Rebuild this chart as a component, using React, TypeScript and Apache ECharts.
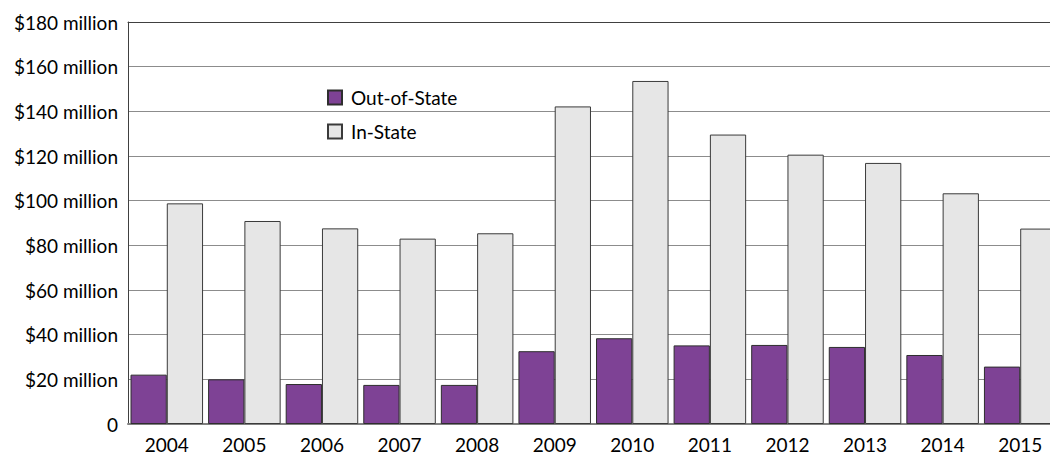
import React, { useEffect, useRef } from "react";
import * as echarts from "echarts";

const years = ["2004", "2005", "2006", "2007", "2008", "2009", "2010", "2011", "2012", "2013", "2014", "2015"];
const outOfState = [22.1, 20, 17.9, 17.5, 17.5, 32.6, 38.4, 35.2, 35.4, 34.5, 30.9, 25.7];
const inState = [98.8, 90.9, 87.6, 83, 85.4, 142.2, 153.6, 129.6, 120.6, 116.9, 103.3, 87.5];
const yTicks = [0, 20, 40, 60, 80, 100, 120, 140, 160, 180];

const FONT = "Lato, 'Noto Sans', sans-serif";

export default function App() {
  const ref = useRef<HTMLDivElement>(null);
  useEffect(() => {
    if (!ref.current) return;
    const chart = echarts.init(ref.current, undefined, { renderer: "svg" });
    chart.setOption({
      animation: false,
      backgroundColor: "#ffffff",
      textStyle: { fontFamily: FONT },
      grid: { left: 128, top: 22, bottom: 31, width: 931, containLabel: false, outerBoundsMode: "none" },
      legend: {
        orient: "vertical",
        left: 327,
        top: 88,
        padding: 0,
        itemWidth: 14,
        itemHeight: 14,
        itemGap: 15,
        icon: "rect",
        textStyle: { fontFamily: FONT, fontSize: 19, color: "#000", padding: [0, 0, 0, 4] },
        data: ["Out-of-State", "In-State"],
      },
      xAxis: [
        {
          type: "category",
          data: years,
          position: "bottom",
          axisLine: { lineStyle: { color: "#808080", width: 2 } },
          axisTick: { show: false },
          axisLabel: { fontFamily: FONT, fontSize: 19, color: "#000", margin: 11 },
        },
        {
          type: "category",
          data: years,
          position: "top",
          axisLine: { lineStyle: { color: "#404040", width: 1 } },
          axisTick: { show: false },
          axisLabel: { show: false },
        },
      ],
      yAxis: {
        type: "value",
        min: 0,
        max: 180,
        interval: 20,
        axisLine: { show: true, lineStyle: { color: "#404040", width: 1 } },
        axisTick: { show: false },
        splitLine: { lineStyle: { color: "#8c8c8c", width: 1 } },
        axisLabel: {
          fontFamily: FONT,
          fontSize: 19,
          color: "#000",
          margin: 10,
          formatter: (v: number) => (yTicks.includes(v) ? (v === 0 ? "0" : `$${v} million`) : ""),
        },
      },
      series: [
        {
          name: "Out-of-State",
          type: "bar",
          data: outOfState,
          barGap: "0%",
          barCategoryGap: "6.5%",
          itemStyle: { color: "#7e4295", borderColor: "#2e2e2e", borderWidth: 1 },
        },
        {
          name: "In-State",
          type: "bar",
          data: inState,
          barGap: "0%",
          barCategoryGap: "6.5%",
          itemStyle: { color: "#e6e6e6", borderColor: "#3a3a3a", borderWidth: 1 },
        },
      ],
    });
    return () => chart.dispose();
  }, []);
  return (
    <div
      ref={ref}
      style={{ position: "fixed", left: 0, top: 0, width: 1050, height: 455, background: "#fff" }}
    />
  );
}
